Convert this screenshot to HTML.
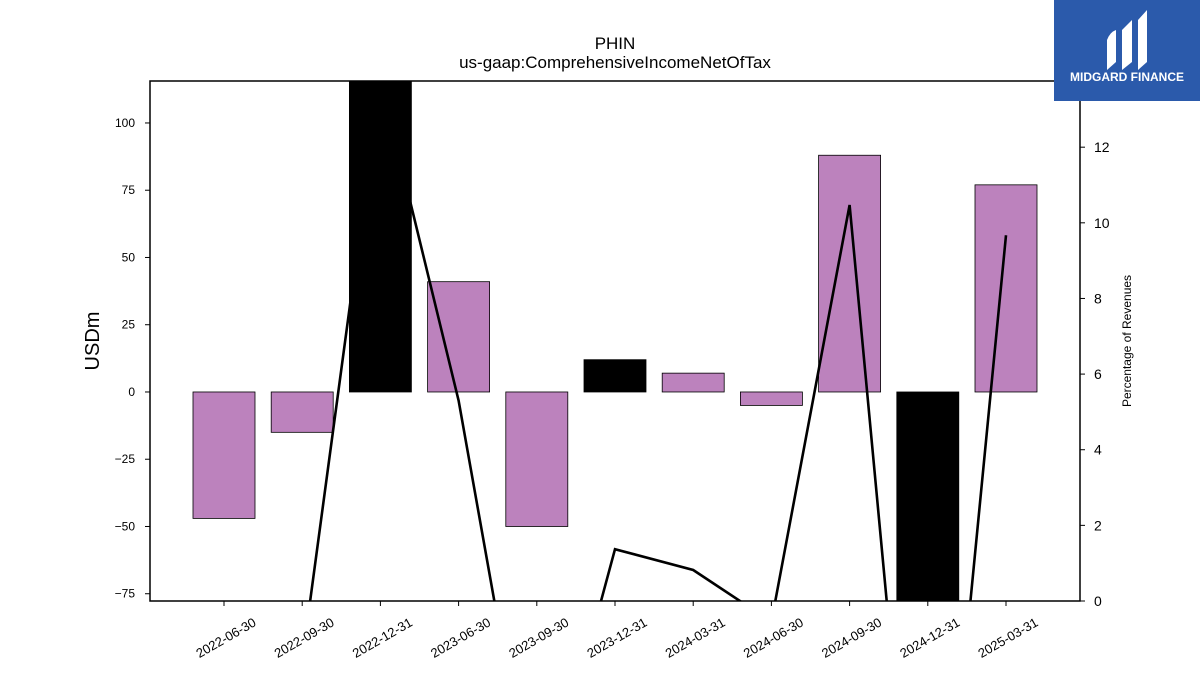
<!DOCTYPE html>
<html style="margin:0;overflow:hidden;width:1200px;height:675px"><head><meta charset="utf-8"><style>
body{margin:0;background:#fff;width:1200px;height:675px;overflow:hidden;font-family:"Liberation Sans","DejaVu Sans",sans-serif}
svg{display:block}
</style></head><body>
<svg id="chart" width="1200" height="675" xmlns="http://www.w3.org/2000/svg" font-family="Liberation Sans, DejaVu Sans, sans-serif">
<text x="615" y="49" font-size="17" text-anchor="middle">PHIN</text>
<text x="615" y="68" font-size="17" text-anchor="middle">us-gaap:ComprehensiveIncomeNetOfTax</text>
<g id="plot"></g>
<text x="0" y="0" font-size="20" text-anchor="middle" transform="translate(99,341) rotate(-90)">USDm</text>
<text x="0" y="0" font-size="12" text-anchor="middle" transform="translate(1131,341) rotate(-90)">Percentage of Revenues</text>
<g>
<rect x="1054" y="0" width="146" height="101" fill="#2b5aab"/>
<path d="M1107 40 Q1110 32 1116 30 L1116 62 L1107 70 Z" fill="#fff"/>
<path d="M1122 30 L1132 20 L1132 62 L1122 70 Z" fill="#fff"/>
<path d="M1138 20 L1147 10 L1147 62 L1138 70 Z" fill="#fff"/>
<text x="1127" y="81" font-size="12" font-weight="bold" fill="#fff" text-anchor="middle">MIDGARD FINANCE</text>
</g>
</svg>
<script>
const categories=["2022-06-30","2022-09-30","2022-12-31","2023-06-30","2023-09-30","2023-12-31","2024-03-31","2024-06-30","2024-09-30","2024-12-31","2025-03-31"];
const barValues=[-47,-15,130,41,-50,12,7,-5,88,-90,77];
const outlier=[false,false,true,false,false,true,false,false,false,true,false];
const pctValues=[-3,-1.56,13.8,5.3,-6.3,1.37,0.82,-0.55,10.47,-11.6,9.67];
const yTicks=[-75,-50,-25,0,25,50,75,100];
const y2Ticks=[0,2,4,6,8,10,12];
const NS="http://www.w3.org/2000/svg";
const L=150,R=1080,T=81,B=601;
const yMin=-77.7,yMax=115.6,y2Min=0,y2Max=13.75;
const x=i=>224+i*78.2;
const y=v=>B-(v-yMin)/(yMax-yMin)*(B-T);
const y2=v=>B-(v-y2Min)/(y2Max-y2Min)*(B-T);
const svg=document.getElementById('chart');
const plot=document.getElementById('plot');
function mk(tag,attrs,parent){const e=document.createElementNS(NS,tag);for(const k in attrs)e.setAttribute(k,attrs[k]);(parent||plot).appendChild(e);return e;}
const defs=mk('defs',{},svg);
const cp=mk('clipPath',{id:'clip'},defs);
mk('rect',{x:L,y:T,width:R-L,height:B-T},cp);
const g=mk('g',{'clip-path':'url(#clip)'});
function bar(i){
  const v=barValues[i],y0=y(0),yv=y(v);
  const r=mk('rect',{x:x(i)-31,y:Math.min(y0,yv),width:62,height:Math.abs(yv-y0),fill:outlier[i]?'#000':'#bc82bd',stroke:'#000','stroke-width':0.8},g);
  
  
}
barValues.forEach((v,i)=>{if(!outlier[i])bar(i);});
const line=mk('polyline',{points:pctValues.map((v,i)=>x(i)+','+y2(v)).join(' '),fill:'none',stroke:'#000','stroke-width':2.6},g);


barValues.forEach((v,i)=>{if(outlier[i])bar(i);});
const frame=mk('rect',{x:L,y:T,width:R-L,height:B-T,fill:'none',stroke:'#000','stroke-width':1.5});


yTicks.forEach(t=>{
  mk('line',{x1:L-5,x2:L,y1:y(t),y2:y(t),stroke:'#000'});
  const tx=mk('text',{x:L-15,y:y(t)+4,'font-size':12,'text-anchor':'end'});
  tx.textContent=(t<0?'\u2212':'')+Math.abs(t);
  
  
});
y2Ticks.forEach(t=>{
  mk('line',{x1:R,x2:R+5,y1:y2(t),y2:y2(t),stroke:'#000'});
  const tx=mk('text',{x:R+14,y:y2(t)+5,'font-size':14});
  tx.textContent=t;
  
  
});
categories.forEach((c,i)=>{
  mk('line',{x1:x(i),x2:x(i),y1:B,y2:B+5,stroke:'#000'});
  const tx=mk('text',{x:0,y:0,'font-size':13,'text-anchor':'end',transform:`translate(${x(i)+33},${B+24}) rotate(-30)`});
  tx.textContent=c;
  
  
});
</script>
</body></html>
